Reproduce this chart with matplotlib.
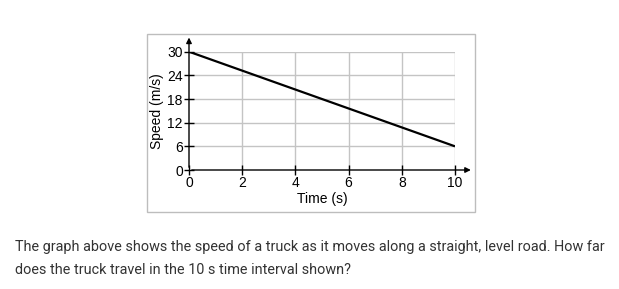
import matplotlib
matplotlib.use("Agg")
import matplotlib.pyplot as plt
from matplotlib.patches import Rectangle

time_s = [0, 10]
speed = [30, 6]
xticks = [0, 2, 4, 6, 8, 10]
yticks = [0, 6, 12, 18, 24, 30]

W, H = 619, 289
fig = plt.figure(figsize=(W / 100, H / 100), dpi=100)
fig.patch.set_facecolor("white")

def fx(px):
    return px / W

def fy(py):
    return 1 - py / H

# outer frame
fig.patches.append(Rectangle((fx(147), fy(212)), fx(475) - fx(147), fy(34) - fy(212),
                             transform=fig.transFigure, fill=False, edgecolor="#bdbdbd", lw=1.0))

ax = fig.add_axes([fx(189), fy(170), fx(455) - fx(189), fy(51.7) - fy(170)])
ax.set_xlim(0, 10)
ax.set_ylim(0, 30)
for s in ax.spines.values():
    s.set_visible(False)

# grid
for x in xticks[1:]:
    ax.plot([x, x], [0, 30], color="#c4c4c4", lw=1.0, zorder=1)
for y in yticks[1:]:
    ax.plot([0, 10], [y, y], color="#c4c4c4", lw=1.0, zorder=1)

# axes with arrows
ax.annotate("", xy=(10.7, 0), xytext=(0, 0), xycoords="data",
            arrowprops=dict(arrowstyle="-|>", color="black", lw=1.0, mutation_scale=8),
            annotation_clip=False, zorder=3)
ax.annotate("", xy=(0, 34.3), xytext=(0, 0), xycoords="data",
            arrowprops=dict(arrowstyle="-|>", color="black", lw=1.0, mutation_scale=8),
            annotation_clip=False, zorder=3)

ax.plot(time_s, speed, color="black", lw=1.6, zorder=4, solid_capstyle="butt")

fs = 10
ax.set_xticks(xticks)
ax.set_yticks(yticks)
ax.set_xticklabels([str(v) for v in xticks], fontsize=fs, family="Liberation Sans")
ax.set_yticklabels([str(v) for v in yticks], fontsize=fs, family="Liberation Sans")
ax.tick_params(axis="both", direction="inout", length=7, width=1.0, color="black", pad=1)
ax.set_xlabel("Time (s)", fontsize=fs, family="Liberation Sans", labelpad=1)
ax.set_ylabel("Speed (m/s)", fontsize=fs, family="Liberation Sans", labelpad=2)

fig.text(fx(15), fy(247), "The graph above shows the speed of a truck as it moves along a straight, level road. How far",
         fontsize=10.4, family="Roboto", color="#333333", va="center", ha="left")
fig.text(fx(15), fy(270), "does the truck travel in the 10 s time interval shown?",
         fontsize=10.4, family="Roboto", color="#333333", va="center", ha="left")

fig.savefig("out.png", dpi=100, facecolor="white")
